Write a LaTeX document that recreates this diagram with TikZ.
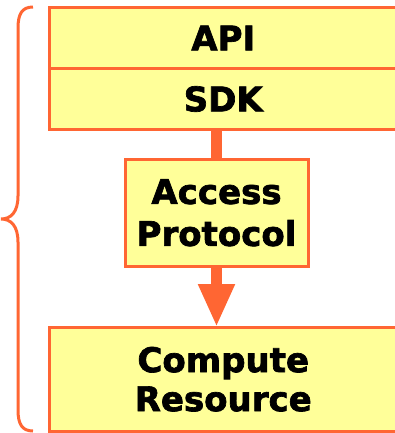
\documentclass[tikz,border=0pt]{standalone}
\usepackage{fontspec}
\setmainfont{DejaVu Sans}[BoldFont={DejaVu Sans Bold}, BoldFeatures={FakeBold=2}]
\usetikzlibrary{arrows.meta}

\definecolor{boxfill}{RGB}{255,255,153}
\definecolor{boxline}{RGB}{255,102,51}

\tikzset{
  layer/.style={draw=boxline, fill=boxfill, line width=3pt, inner sep=0pt,
    outer sep=0pt, align=center, text=black, font=\bfseries\fontsize{34}{40}\selectfont},
  link/.style={draw=boxline, line width=10.5pt},
  flow/.style={draw=boxline, line width=11pt,
    -{Triangle[width=34pt,length=43pt]}, fill=boxline},
  bracket/.style={draw=boxline, line width=3pt}
}

\begin{document}
\begin{tikzpicture}[x=1pt, y=-1pt]
  \useasboundingbox (0,0) rectangle (395,433);

  % stacked client layers
  \node[layer, minimum width=347.5pt, minimum height=61pt] (api) at (223.25,38) {API};
  \node[layer, minimum width=347.5pt, minimum height=61pt] (sdk) at (223.25,99) {SDK};

  % access protocol
  \node[layer, minimum width=183pt, minimum height=106.5pt,
        font=\bfseries\fontsize{34}{42}\selectfont] (access) at (216.5,212.75) {Access\\Protocol};

  % compute resource
  \node[layer, minimum width=347.5pt, minimum height=104.5pt,
        font=\bfseries\fontsize{34}{39}\selectfont] (compute) at (223.25,379.25) {Compute\\Resource};

  % connectors
  \draw[link] (sdk.south -| access.north) -- (access.north);
  \draw[flow] (access.south) -- (compute.north -| access.south);

  % curly bracket along the left side
  \coordinate (btop) at (33,7);
  \coordinate (btip) at (1,219);
  \coordinate (bbot) at (33,431);
  \draw[bracket] (btop) .. controls (22,7) and (18,14) .. (18,28)
    -- (18,196) .. controls (18,212) and (11,219) .. (btip)
    .. controls (11,219) and (18,226) .. (18,242)
    -- (18,410) .. controls (18,424) and (22,431) .. (bbot);
\end{tikzpicture}
\end{document}
